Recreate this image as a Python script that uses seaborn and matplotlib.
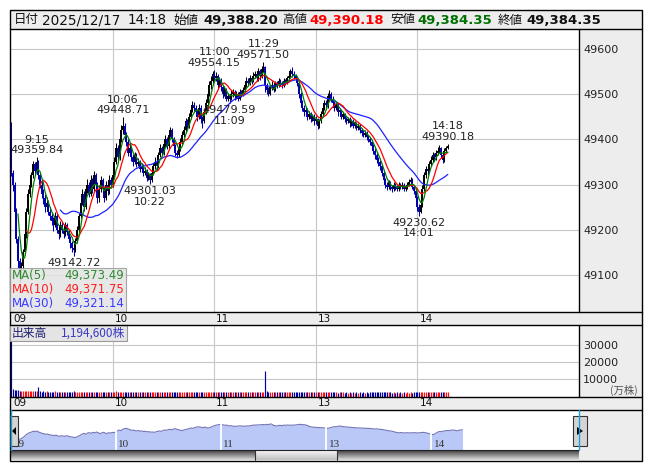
import numpy as np
import pandas as pd
import seaborn as sns
import matplotlib.pyplot as plt
from matplotlib.patches import Rectangle, Polygon

# ---- data (1 minute bars, 9:00-11:29 and 12:30-14:18) ----
first_open = 49435
close = [
    49325, 49300, 49240, 49180, 49130, 49100, 49120, 49150, 49190, 49240,  # 9:00
    49280, 49300, 49320, 49345, 49330, 49350, 49320, 49300, 49280, 49270,  # 9:10
    49250, 49260, 49240, 49230, 49220, 49210, 49230, 49200, 49190, 49210,  # 9:20
    49200, 49190, 49210, 49195, 49180, 49170, 49160, 49155, 49175, 49200,  # 9:30
    49230, 49260, 49280, 49250, 49290, 49300, 49280, 49310, 49290, 49320,  # 9:40
    49300, 49270, 49290, 49310, 49290, 49270, 49300, 49285, 49310, 49300,  # 9:50
    49320, 49350, 49380, 49360, 49400, 49420, 49430, 49410, 49395, 49370,  # 10:00
    49380, 49360, 49350, 49365, 49345, 49350, 49335, 49340, 49325, 49330,  # 10:10
    49315, 49320, 49310, 49325, 49340, 49350, 49340, 49365, 49380, 49370,  # 10:20
    49390, 49400, 49385, 49410, 49420, 49400, 49385, 49370, 49365, 49380,  # 10:30
    49395, 49410, 49420, 49440, 49430, 49450, 49465, 49475, 49470, 49460,  # 10:40
    49450, 49470, 49445, 49440, 49460, 49480, 49500, 49520, 49530, 49545,  # 10:50
    49535, 49540, 49520, 49530, 49515, 49500, 49510, 49490, 49495, 49490,  # 11:00
    49500, 49505, 49495, 49500, 49490, 49505, 49500, 49510, 49520, 49530,  # 11:10
    49525, 49535, 49530, 49540, 49545, 49535, 49550, 49540, 49555, 49560,  # 11:20
    49520, 49510, 49500, 49515, 49520, 49510, 49525, 49520, 49530, 49525,  # 12:30
    49520, 49530, 49525, 49535, 49540, 49550, 49545, 49540, 49535, 49525,  # 12:40
    49500, 49480, 49470, 49460, 49465, 49450, 49455, 49445, 49450, 49440,  # 12:50
    49445, 49430, 49440, 49455, 49470, 49480, 49475, 49495, 49500, 49490,  # 13:00
    49480, 49470, 49475, 49460, 49465, 49450, 49455, 49445, 49440, 49445,  # 13:10
    49435, 49440, 49430, 49435, 49425, 49430, 49420, 49415, 49410, 49415,  # 13:20
    49405, 49400, 49395, 49385, 49375, 49365, 49355, 49350, 49340, 49325,  # 13:30
    49310, 49300, 49295, 49305, 49295, 49290, 49300, 49295, 49290, 49300,  # 13:40
    49295, 49300, 49290, 49295, 49300, 49305, 49310, 49295, 49285, 49270,  # 13:50
    49250, 49240, 49255, 49290, 49320, 49335, 49330, 49345, 49355, 49365,  # 14:00
    49360, 49370, 49375, 49380, 49365, 49355, 49375, 49380, 49384.35,      # 14:10
]
high = [
    49438, 49332, 49305, 49248, 49186, 49138, 49128, 49158, 49196, 49248,
    49290, 49312, 49328, 49352, 49350, 49359.84, 49355, 49326, 49308, 49290,
    49278, 49272, 49266, 49250, 49238, 49228, 49240, 49235, 49208, 49220,
    49218, 49206, 49218, 49214, 49200, 49186, 49176, 49168, 49182, 49208,
    49238, 49268, 49290, 49285, 49298, 49312, 49306, 49320, 49315, 49331,
    49325, 49305, 49298, 49318, 49315, 49296, 49308, 49306, 49320, 49316,
    49328, 49360, 49392, 49388, 49410, 49432, 49448.71, 49436, 49416, 49400,
    49391, 49385, 49368, 49372, 49370, 49358, 49355, 49347, 49345, 49338,
    49335, 49328, 49325, 49332, 49348, 49360, 49356, 49372, 49390, 49386,
    49398, 49410, 49405, 49418, 49427, 49424, 49405, 49390, 49376, 49388,
    49402, 49418, 49430, 49448, 49446, 49458, 49474, 49485, 49482, 49476,
    49466, 49478, 49475, 49452, 49468, 49490, 49510, 49530, 49540, 49552,
    49554.15, 49548, 49545, 49538, 49535, 49520, 49518, 49514, 49502, 49500,
    49508, 49512, 49510, 49506, 49504, 49512, 49510, 49516, 49526, 49538,
    49535, 49542, 49540, 49548, 49552, 49550, 49558, 49555, 49562, 49571.50,
    49562, 49525, 49515, 49520, 49528, 49524, 49530, 49530, 49536, 49534,
    49530, 49536, 49534, 49540, 49546, 49556, 49560, 49550, 49545, 49540,
    49528, 49505, 49486, 49476, 49471, 49470, 49462, 49460, 49456, 49455,
    49452, 49448, 49446, 49462, 49476, 49488, 49486, 49502, 49510, 49505,
    49495, 49485, 49482, 49480, 49470, 49468, 49460, 49458, 49450, 49450,
    49449, 49446, 49444, 49440, 49438, 49436, 49434, 49425, 49420, 49420,
    49418, 49410, 49404, 49398, 49390, 49380, 49370, 49360, 49354, 49345,
    49330, 49315, 49305, 49310, 49308, 49300, 49305, 49304, 49300, 49306,
    49304, 49306, 49304, 49300, 49306, 49312, 49316, 49314, 49300, 49290,
    49274, 49256, 49262, 49298, 49328, 49340, 49342, 49352, 49362, 49372,
    49370, 49376, 49382, 49387, 49384, 49370, 49380, 49386, 49390.18,
]
low = [
    49318, 49285, 49228, 49170, 49115, 49085, 49092, 49110, 49145, 49182,
    49235, 49272, 49295, 49315, 49322, 49326, 49312, 49292, 49270, 49258,
    49240, 49245, 49232, 49222, 49210, 49198, 49205, 49192, 49180, 49185,
    49192, 49182, 49186, 49188, 49172, 49160, 49150, 49142.72, 49150, 49170,
    49195, 49225, 49255, 49242, 49245, 49282, 49272, 49275, 49282, 49285,
    49292, 49260, 49262, 49284, 49282, 49262, 49265, 49276, 49280, 49292,
    49295, 49315, 49345, 49352, 49355, 49395, 49412, 49402, 49385, 49362,
    49365, 49352, 49342, 49345, 49338, 49340, 49328, 49330, 49318, 49320,
    49308, 49310, 49301.03, 49305, 49320, 49335, 49332, 49336, 49360, 49362,
    49366, 49384, 49378, 49380, 49404, 49394, 49376, 49362, 49358, 49360,
    49375, 49390, 49405, 49415, 49422, 49426, 49445, 49460, 49462, 49452,
    49440, 49445, 49436, 49425, 49435, 49455, 49475, 49495, 49512, 49525,
    49528, 49530, 49512, 49515, 49506, 49492, 49495, 49484, 49485, 49479.59,
    49486, 49494, 49488, 49490, 49484, 49486, 49494, 49496, 49505, 49515,
    49518, 49520, 49522, 49526, 49535, 49528, 49530, 49532, 49536, 49548,
    49505, 49500, 49496, 49498, 49510, 49504, 49506, 49514, 49516, 49518,
    49514, 49516, 49520, 49522, 49530, 49536, 49538, 49534, 49528, 49518,
    49492, 49472, 49462, 49452, 49455, 49442, 49444, 49438, 49440, 49432,
    49434, 49422, 49426, 49436, 49450, 49465, 49468, 49470, 49488, 49482,
    49472, 49462, 49465, 49452, 49454, 49444, 49445, 49438, 49434, 49436,
    49428, 49430, 49424, 49426, 49420, 49420, 49414, 49408, 49404, 49405,
    49398, 49394, 49388, 49378, 49368, 49356, 49348, 49342, 49332, 49318,
    49302, 49292, 49288, 49290, 49288, 49284, 49286, 49288, 49285, 49286,
    49290, 49290, 49286, 49286, 49290, 49296, 49300, 49290, 49278, 49262,
    49242, 49230.62, 49236, 49250, 49285, 49315, 49322, 49325, 49340, 49350,
    49352, 49355, 49365, 49370, 49358, 49348, 49350, 49370, 49378,
]
volume = [
    52000, 4300, 3900, 3700, 3600, 3500, 3400, 3300, 3300, 3200,
    3100, 3200, 3000, 3100, 3000, 3100, 5600, 3000, 2900, 3000,
    2900, 3000, 2800, 2900, 2800, 2900, 3000, 2800, 2900, 2800,
    2800, 2700, 2900, 2800, 2700, 2800, 2900, 3000, 2800, 2700,
    2800, 2900, 2800, 2700, 2800, 2900, 2700, 2800, 2600, 2700,
    2600, 2700, 2800, 2600, 2700, 2600, 2800, 2700, 2600, 2700,
    2800, 2900, 3000, 2800, 2900, 2800, 2900, 2700, 2800, 2700,
    2700, 2600, 2700, 2800, 2600, 2700, 2600, 2700, 2600, 2700,
    2600, 2700, 2800, 2600, 2700, 2600, 2500, 2700, 2600, 2500,
    2600, 2500, 2600, 2700, 2500, 2600, 2500, 2600, 2500, 2600,
    2500, 2600, 2700, 2500, 2600, 2500, 2600, 2500, 2600, 2500,
    2600, 2500, 2400, 2600, 2500, 2600, 2700, 2600, 2500, 2600,
    2700, 2600, 2500, 2600, 2500, 2400, 2500, 2600, 2500, 2400,
    2500, 2400, 2500, 2600, 2400, 2500, 2400, 2500, 2600, 2500,
    2400, 2500, 2400, 2500, 2600, 2500, 2400, 2500, 2600, 2700,
    15000, 3000, 2700, 2600, 2500, 2600, 2500, 2400, 2500, 2600,
    2500, 2400, 2500, 2600, 2500, 2400, 2500, 2400, 2500, 2400,
    2600, 2700, 2600, 2500, 2400, 2500, 2400, 2500, 2400, 2500,
    2400, 2500, 2400, 2500, 2600, 2500, 2400, 2500, 2600, 2500,
    2400, 2500, 2400, 2300, 2400, 2500, 2400, 2300, 2400, 2300,
    2400, 2300, 2400, 2300, 2400, 2300, 2400, 2300, 2400, 2300,
    2400, 2300, 2400, 2500, 2400, 2500, 2400, 2500, 2400, 2500,
    2600, 2500, 2400, 2500, 2400, 2300, 2400, 2300, 2400, 2300,
    2400, 2300, 2400, 2300, 2400, 2300, 2400, 2300, 2400, 2500,
    2600, 2700, 2600, 2700, 2600, 2500, 2400, 2500, 2400, 2500,
    2400, 2500, 2400, 2500, 2400, 2500, 2400, 2500, 2400,
]
hour_pos = [0, 60, 120, 180, 240]
hour_labels = ['09', '10', '11', '13', '14']
price_ticks = [49100, 49200, 49300, 49400, 49500, 49600]
vol_ticks = [10000, 20000, 30000]
peaks = [(15, 49359.84, '9:15'), (66, 49448.71, '10:06'), (120, 49554.15, '11:00'),
         (149, 49571.50, '11:29'), (258, 49390.18, '14:18')]
# the 9:37 time line sits under the MA legend box in the original, so only the value shows
troughs = [(37, 49142.72, ''), (82, 49301.03, '10:22'), (129, 49479.59, '11:09'),
           (241, 49230.62, '14:01')]
ma_legend = [('MA(5)', '49,373.49', '#2e8b2e'), ('MA(10)', '49,371.75', '#ff2020'),
             ('MA(30)', '49,321.14', '#3a3aff')]

sns.set_style('white')
plt.rcParams['font.family'] = ['DejaVu Sans']
JP = ['Noto Sans CJK JP', 'DejaVu Sans']

W, H = 653, 470


def box(x0, y0, x1, y1):
    return [x0 / W, 1 - y1 / H, (x1 - x0) / W, (y1 - y0) / H]


fig = plt.figure(figsize=(W / 100, H / 100), dpi=100)

# background panels, pixel coordinates
bg = fig.add_axes([0, 0, 1, 1], zorder=0)
bg.set_xlim(0, W)
bg.set_ylim(H, 0)
bg.axis('off')
gray = '#ededed'
for x0, y0, x1, y1 in [(10, 10, 642, 29), (579, 29, 642, 461), (10, 312, 579, 325),
                       (10, 397, 579, 410)]:
    bg.add_patch(Rectangle((x0, y0), x1 - x0, y1 - y0, fc=gray, ec='none'))

df = pd.DataFrame({'t': np.arange(len(close)), 'open': [first_open] + close[:-1],
                   'high': high, 'low': low, 'close': close, 'vol': volume})
df['up'] = df['close'] >= df['open']
for n in (5, 10, 30):
    df[f'ma{n}'] = df['close'].rolling(n).mean()

XLIM = (-0.7, 335.5)

# ---- price panel ----
ax = fig.add_axes(box(10, 29, 579, 312), zorder=1)
col = np.where(df['up'], '#000000', '#0000b0')
ax.vlines(df['t'], df['low'], df['high'], colors=col, lw=0.75)
ax.vlines(df['t'], df[['open', 'close']].min(axis=1), df[['open', 'close']].max(axis=1),
          colors=col, lw=1.4)
for n, c in [(30, '#2020ff'), (10, '#ff0000'), (5, '#008000')]:
    sns.lineplot(data=df, x='t', y=f'ma{n}', color=c, lw=0.9, ax=ax, estimator=None)
ax.set_xlim(*XLIM)
ax.set_ylim(49018, 49644)
ax.set_xlabel('')
ax.set_ylabel('')
ax.set_yticks(price_ticks)
ax.yaxis.tick_right()
ax.tick_params(axis='y', length=0, pad=3, labelsize=8, labelcolor='#222222')
ax.set_xticks(hour_pos[1:])
ax.tick_params(axis='x', length=0, labelbottom=False)
ax.grid(True, color='#c8c8c8', lw=0.8)
for s in ax.spines.values():
    s.set_visible(False)

for i, v, t in peaks:
    ax.annotate(f'{t}\n{v:.2f}', (i, v), xytext=(0, 1.5), textcoords='offset points',
                ha='center', va='bottom', fontsize=8, linespacing=1.05, color='#222222')
for i, v, t in troughs:
    lbl = f'{v:.2f}\n{t}' if t else f'{v:.2f}'
    ax.annotate(lbl, (i, v), xytext=(0, -1.5), textcoords='offset points',
                ha='center', va='top', fontsize=8, linespacing=1.05, color='#222222')

# ---- volume panel ----
axv = fig.add_axes(box(10, 325, 579, 396.5), zorder=1)
vcol = np.where(df['up'], '#ff1010', '#0000a0')
axv.vlines(df['t'], 0, df['vol'], colors=vcol, lw=0.85)
axv.set_xlim(*XLIM)
axv.set_ylim(0, 42000)
axv.set_yticks(vol_ticks)
axv.yaxis.tick_right()
axv.tick_params(axis='y', length=0, pad=3, labelsize=8, labelcolor='#222222')
axv.set_xticks(hour_pos[1:])
axv.tick_params(axis='x', length=0, labelbottom=False)
axv.grid(True, color='#c8c8c8', lw=0.8)
for s in axv.spines.values():
    s.set_visible(False)

# ---- navigator ----
NAV_LO = 48780
axn = fig.add_axes(box(10, 411, 579, 450), zorder=1)
segs = [(0, 61), (60, 121), (120, 181), (180, 241), (240, len(close))]
for a, b in segs:
    part = df.iloc[a:b]
    axn.fill_between(part['t'], part['close'], NAV_LO, color='#b9c8f6', lw=0)
sns.lineplot(data=df, x='t', y='close', color='#7474b8', lw=0.8, ax=axn, estimator=None)
for x in hour_pos[1:]:
    axn.axvline(x, color='white', lw=1.3)
for x, lbl in zip(hour_pos, hour_labels):
    axn.text(x + 1.5, NAV_LO + 40, lbl, fontsize=8, family='Liberation Serif',
             color='#333333', va='bottom', ha='left')
axn.set_xlim(-0.3, 324.5)
axn.set_ylim(NAV_LO, 49950)
axn.set_xlabel('')
axn.set_ylabel('')
axn.set_xticks([])
axn.set_yticks([])
for s in axn.spines.values():
    s.set_visible(False)

# scrollbar
axs = fig.add_axes(box(10, 450, 579, 460), zorder=2)
grad = np.linspace(0.25, 0.85, 16).reshape(-1, 1)
axs.imshow(grad, cmap='gray', vmin=0, vmax=1, aspect='auto', extent=(10, 579, 460, 450))
axs.imshow(np.linspace(0.97, 0.75, 16).reshape(-1, 1), cmap='gray', vmin=0, vmax=1,
           aspect='auto', extent=(255, 337, 460, 450))
axs.set_xlim(10, 579)
axs.set_ylim(460, 450)
axs.axis('off')

# ---- overlay: frames, texts ----
fg = fig.add_axes([0, 0, 1, 1], zorder=5)
fg.set_xlim(0, W)
fg.set_ylim(H, 0)
fg.axis('off')
fg.patch.set_alpha(0)
k = dict(color='black', lw=1)
fg.add_patch(Rectangle((10, 10), 632, 451, fc='none', ec='black', lw=1))
for y in (29, 312, 325, 397, 410):
    fg.plot([10, 642], [y, y], **k)
fg.plot([579, 579], [29, 312], **k)
fg.plot([579, 579], [325, 397], **k)
fg.plot([255, 255], [450, 460], color='#333333', lw=0.8)
fg.plot([337, 337], [450, 460], color='#333333', lw=0.8)
fg.plot([10, 579], [450, 450], color='#222222', lw=0.8)
for x in (10.5, 579):
    fg.plot([x, x], [410, 450], color='#1ea0d8', lw=1)

# navigator buttons
for x0, x1, pts in [(10, 18, [(12, 431), (16, 427), (16, 435)]),
                    (573, 587, [(577, 427), (583, 431), (577, 435)])]:
    fg.add_patch(Rectangle((x0, 416), x1 - x0, 30, fc='#d4d4d4', ec='#333333', lw=0.8))
    fg.add_patch(Polygon(pts, closed=True, fc='black', ec='none'))

# time strips
for ystrip in (318.5, 403.5):
    for x, lbl in zip(hour_pos, hour_labels):
        px = 10 + (x - XLIM[0]) * 569 / (XLIM[1] - XLIM[0])
        fg.text(px + 2, ystrip, lbl, fontsize=7.5, va='center', ha='left', color='#111111')

# MA legend box
fg.add_patch(Rectangle((10, 268), 116, 44, fc='#e4e4e4', ec='#9a9a9a', lw=0.8, alpha=0.88))
for r, (name, val, c) in enumerate(ma_legend):
    yy = 276 + r * 13.5
    fg.text(12, yy, name, fontsize=8.5, color=c, va='center', ha='left')
    fg.text(124, yy, val, fontsize=8.5, color=c, va='center', ha='right')

# volume label box
fg.add_patch(Rectangle((10, 325), 117, 16, fc='#e4e4e4', ec='#9a9a9a', lw=0.8))
fg.text(12, 333, '出来高', fontsize=8.5, family=JP, color='#202070', va='center')
fg.text(125, 333, '1,194,600株', fontsize=8.5, family=JP, color='#3a3ac8', va='center',
        ha='right')
fg.text(638, 390, '(万株)', fontsize=7.5, family=JP, color='#555555', va='center', ha='right')

# header
hdr = [('日付', 14, 'normal', '#111111', JP), ('2025/12/17', 42, 'normal', '#111111', None),
       ('14:18', 128, 'normal', '#111111', None), ('始値', 173, 'normal', '#111111', JP),
       ('49,388.20', 203, 'bold', '#111111', None), ('高値', 282, 'normal', '#111111', JP),
       ('49,390.18', 309, 'bold', '#ff0000', None), ('安値', 390, 'normal', '#111111', JP),
       ('49,384.35', 417, 'bold', '#007000', None), ('終値', 498, 'normal', '#111111', JP),
       ('49,384.35', 526, 'bold', '#111111', None)]
for txt, x, wt, c, fam in hdr:
    kw = dict(family=fam) if fam else {}
    fs = 9 if fam else (9.5 if wt == 'bold' else 9.8)
    fg.text(x, 20, txt, fontsize=fs, weight=wt, color=c, va='center', ha='left', **kw)

fig.savefig('out.png', dpi=100)
